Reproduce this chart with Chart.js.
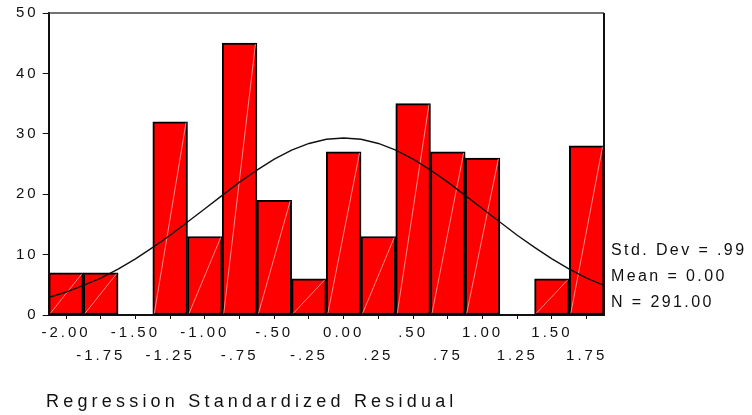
<!DOCTYPE html>
<html>
<head>
<meta charset="utf-8">
<script src="https://cdn.jsdelivr.net/npm/chart.js@4"></script>
<style>
    html, body { margin: 0; padding: 0; background: #ffffff; }
    #wrap { width: 752px; height: 415px; }
</style>
</head>
<body>
<div id="wrap"><canvas id="histChart"></canvas></div>
<script>
/* ==========================================
   DATA
========================================== */

// Bin labels (centres of the residual bins)
const binLabels = [
    "-2.00", "-1.75", "-1.50", "-1.25", "-1.00", "-.75", "-.50", "-.25",
    "0.00", ".25", ".50", ".75", "1.00", "1.25", "1.50", "1.75"
];

// Frequency in each bin
const binCounts = [7, 7, 0, 32, 13, 45, 19, 6, 27, 13, 35, 27, 26, 0, 6, 28];

// Normal curve
const curveX = [
    -2.125, -2.0, -1.875, -1.75, -1.625, -1.5, -1.375, -1.25, -1.125, -1.0, -0.875,
    -0.75, -0.625, -0.5, -0.375, -0.25, -0.125, 0, 0.125, 0.25, 0.375, 0.5,
    0.625, 0.75, 0.875, 1.0, 1.125, 1.25, 1.375, 1.5, 1.625, 1.75, 1.875
];
const curveY = [
    2.9, 3.8, 4.9, 6.1, 7.6, 9.3, 11.2, 13.2, 15.4, 17.6, 19.8,
    22.0, 24.0, 25.8, 27.3, 28.4, 29.1, 29.3, 29.1, 28.4, 27.3, 25.8,
    24.0, 22.0, 19.8, 17.6, 15.4, 13.2, 11.2, 9.3, 7.6, 6.1, 4.9
];

// Summary text at the right
const statLines = ["Std. Dev = .99", "Mean = 0.00", "N = 291.00"];
const axisTitle = "Regression Standardized Residual";


/* ==========================================
   PLUGINS
========================================== */

const FONT = "'Liberation Sans', Arial, sans-serif";

// wide SPSS-style lettering
const spacing = {
    id: "spacing",
    beforeLayout(chart) { chart.ctx.letterSpacing = "3px"; },
    beforeDraw(chart) { chart.ctx.letterSpacing = "3px"; }
};

// thin pale diagonal in every bar
const diagonals = {
    id: "diagonals",
    afterDatasetDraw(chart, args) {
        if (args.index !== 1) return;
        const ctx = chart.ctx;
        ctx.save();
        ctx.strokeStyle = "rgba(255,190,190,0.9)";
        ctx.lineWidth = 0.8;
        args.meta.data.forEach((bar, i) => {
            if (!binCounts[i]) return;
            const p = bar.getProps(["x", "y", "base", "width"], true);
            ctx.beginPath();
            ctx.moveTo(p.x - p.width / 2 + 1.5, p.base - 1);
            ctx.lineTo(p.x + p.width / 2 - 1.5, p.y + 1);
            ctx.stroke();
        });
        ctx.restore();
    }
};

// frame, axis title and stats text
const extras = {
    id: "extras",
    afterDraw(chart) {
        const ctx = chart.ctx;
        const a = chart.chartArea;
        ctx.save();

        ctx.lineWidth = 1.5;
        ctx.strokeStyle = "#444";
        ctx.beginPath();
        ctx.moveTo(a.left, a.top);
        ctx.lineTo(a.right, a.top);
        ctx.stroke();
        ctx.strokeStyle = "#111";
        ctx.lineWidth = 2;
        ctx.beginPath();
        ctx.moveTo(a.right, a.top);
        ctx.lineTo(a.right, a.bottom);
        ctx.stroke();

        ctx.fillStyle = "#111";
        ctx.textBaseline = "middle";
        ctx.textAlign = "left";

        ctx.font = "16px " + FONT;
        ctx.letterSpacing = "2.4px";
        statLines.forEach((t, i) => {
            ctx.fillText(t, a.right + 7, 251 + i * 26);
        });

        ctx.font = "18px " + FONT;
        ctx.letterSpacing = "4.2px";
        ctx.fillText(axisTitle, 46, 402);

        ctx.restore();
    }
};


/* ==========================================
   CHART
========================================== */

new Chart(document.getElementById("histChart"), {

    type: "bar",

    data: {

        labels: binLabels,

        datasets: [{

            type: "line",
            xAxisID: "x2",
            data: curveX.map((x, i) => ({ x: x, y: curveY[i] })),
            borderColor: "#111",
            borderWidth: 1.4,
            pointRadius: 0,
            tension: 0,
            fill: false

        }, {

            type: "bar",
            xAxisID: "x",
            data: binCounts,
            backgroundColor: "#ff0000",
            borderColor: "#000",
            borderWidth: 2,
            borderSkipped: false,
            grouped: false,
            barPercentage: 1,
            categoryPercentage: 1

        }]

    },

    options: {

        responsive: true,
        maintainAspectRatio: false,
        animation: false,
        events: [],

        layout: {
            padding: { left: 12, right: 148, top: 9, bottom: 45 }
        },

        plugins: {
            legend: { display: false },
            tooltip: { enabled: false }
        },

        scales: {

            x: {
                offset: true,
                grid: {
                    offset: false,
                    drawOnChartArea: false,
                    drawTicks: true,
                    tickLength: 4,
                    color: "#111"
                },
                border: { color: "#111", width: 2 },
                ticks: {
                    autoSkip: false,
                    maxRotation: 0,
                    padding: 3,
                    color: "#111",
                    font: { family: FONT, size: 15, lineHeight: 1.5 },
                    callback: (v, i) => i % 2 === 0 ? [binLabels[i], ""] : ["", binLabels[i]]
                }
            },

            x2: {
                type: "linear",
                display: false,
                offset: false,
                min: -2.125,
                max: 1.875
            },

            y: {
                min: 0,
                max: 50,
                grid: {
                    drawOnChartArea: false,
                    drawTicks: true,
                    tickLength: 6,
                    color: "#111"
                },
                border: { color: "#111", width: 2 },
                ticks: {
                    stepSize: 10,
                    padding: 4,
                    color: "#111",
                    font: { family: FONT, size: 15 }
                }
            }

        }

    },

    plugins: [spacing, diagonals, extras]

});
</script>
</body>
</html>
